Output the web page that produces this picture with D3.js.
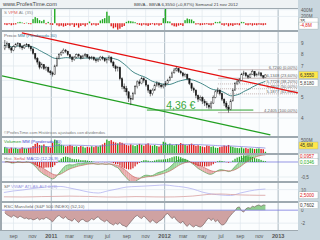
<!DOCTYPE html>
<html>
<head>
<meta charset="utf-8">
<script src="https://cdn.jsdelivr.net/npm/d3@7"></script>
<style>
  body { margin: 0; background: #c9d7df; }
  svg { display: block; font-family: "Liberation Sans", Arial, sans-serif; }
</style>
</head>
<body>
<div id="chart"></div>
<script>
const W = 320, H = 240;

// semanal, primera semana 2 ago 2010
const firstWeek = new Date(2010, 7, 2);
const firstOpen = 8.45;
const closes = [8.7,8.9,8.5,8.3,8.6,8.8,8.9,8.6,8.5,8.7,8.8,8.6,8.4,8.0,7.6,7.3,6.9,7.1,6.8,6.9,
  6.6,6.5,6.4,7.0,7.6,7.9,8.1,8.3,8.2,7.9,7.7,7.5,7.7,7.9,7.8,7.6,7.8,7.9,7.7,7.6,
  7.7,7.5,7.4,7.5,7.7,7.6,7.4,7.5,7.7,7.3,7.0,6.8,6.9,6.1,5.6,5.5,5.3,4.95,4.9,5.2,
  5.6,5.9,5.8,6.1,6.0,5.7,5.4,5.2,5.4,5.7,5.8,5.7,5.6,5.7,5.8,6.0,6.2,6.5,6.7,6.8,
  6.6,6.5,6.3,6.4,6.1,5.8,5.5,5.4,5.1,4.9,5.0,4.8,4.7,4.6,4.5,4.7,5.0,5.3,5.4,5.2,
  4.9,4.7,4.5,4.4,4.8,5.4,5.8,5.9,6.0,6.4,6.5,6.3,6.2,6.4,6.6,6.3,6.4,6.5,6.3,6.2,6.355];
const highs = [9.25,9.1,8.95,8.6,8.75,8.95,9.05,8.95,8.75,8.85,8.95,8.85,8.7,8.5,8.05,7.7,7.4,7.25,7.15,7.0,
  6.95,6.7,6.6,7.1,7.75,8.05,8.25,8.45,8.4,8.25,7.95,7.8,7.8,8.0,8.0,7.85,7.9,8.05,7.95,7.8,
  7.8,7.75,7.6,7.6,7.8,7.8,7.65,7.6,7.85,7.75,7.4,7.1,7.0,6.95,6.2,5.8,5.65,5.35,5.1,5.3,
  5.7,6.0,6.05,6.25,6.2,6.05,5.75,5.45,5.5,5.8,5.95,5.9,5.8,5.8,5.95,6.1,6.3,6.6,6.85,6.95,
  6.85,6.7,6.55,6.5,6.45,6.15,5.85,5.6,5.45,5.15,5.1,5.05,4.9,4.8,4.7,4.8,5.1,5.4,5.55,5.45,
  5.25,4.95,4.8,4.6,4.9,5.5,5.9,6.05,6.15,6.5,6.65,6.55,6.4,6.5,6.72,6.6,6.5,6.6,6.55,6.35,6.4];
const lows = [8.3,8.5,8.35,8.05,8.2,8.5,8.65,8.45,8.3,8.4,8.6,8.45,8.2,7.9,7.45,7.1,6.75,6.8,6.7,6.65,
  6.5,6.35,6.25,6.35,6.95,7.5,7.8,8.0,8.05,7.8,7.55,7.3,7.4,7.6,7.65,7.5,7.55,7.7,7.6,7.45,
  7.5,7.4,7.25,7.3,7.4,7.45,7.3,7.2,7.4,7.2,6.85,6.6,6.6,6.0,5.45,5.3,5.1,4.75,4.6,4.85,
  5.15,5.5,5.65,5.75,5.85,5.6,5.25,5.05,5.1,5.35,5.6,5.55,5.5,5.5,5.6,5.75,5.95,6.15,6.45,6.6,
  6.5,6.4,6.2,6.2,6.0,5.7,5.35,5.25,4.95,4.75,4.8,4.65,4.55,4.45,4.4,4.4,4.65,4.95,5.2,5.1,
  4.8,4.55,4.4,4.2405,4.35,4.8,5.35,5.7,5.8,5.95,6.3,6.2,6.1,6.15,6.35,6.2,6.25,6.3,6.2,6.1,6.2];
// VPM AL (35), millones
const vpm = [-40,-55,-30,-60,-45,-35,25,40,20,-20,15,-25,-30,120,180,150,90,60,100,-30,
  40,-40,-50,420,-60,-90,-70,-100,-80,-50,-70,-40,-110,-60,-130,-80,-50,-90,-40,50,
  -60,-40,-70,-50,80,120,150,340,220,-90,-150,-120,-190,-160,-110,-80,40,70,60,50,
  30,-30,-50,-70,-40,-60,-80,-50,-30,-60,-40,-70,-50,150,430,60,50,-60,-90,-100,
  -70,-50,-80,90,140,120,110,60,-40,-30,-60,-50,-40,-30,-50,-60,-40,40,30,50,
  -50,-70,-40,-90,-60,-80,-50,-40,-60,40,30,-50,-60,-40,-70,-50,-60,-40,-50,-60,-45];
// volumen semanal, millones
const volume = [220,180,160,200,170,190,150,160,210,180,170,190,200,260,340,380,300,280,320,260,
  230,200,380,500,470,350,310,280,240,260,300,270,230,250,220,260,240,200,230,210,
  250,220,260,240,280,320,380,500,450,480,420,390,360,400,380,340,300,280,320,290,
  260,300,340,310,270,330,360,290,270,300,260,240,290,420,390,320,350,300,280,330,
  310,370,340,300,280,320,350,300,270,290,260,240,220,280,260,230,250,200,190,220,
  240,280,260,300,250,230,200,190,180,210,170,190,160,180,170,150,160,170,150,140,45.6];
// RSC Mansfield (S&P 500 INDEX)
const rsc = [-0.4,-0.7,-0.9,-1.1,-0.8,-1.0,-1.2,-0.9,-1.1,-1.3,-1.2,-1.4,-1.3,-1.5,-1.4,-1.2,-1.5,-1.3,-1.4,-1.1,
  -1.3,-1.5,-1.8,-1.4,-1.0,-0.8,-1.1,-1.3,-1.0,-1.4,-1.5,-1.7,-1.3,-1.6,-1.9,-1.5,-1.4,-1.7,-1.8,-1.6,
  -1.3,-1.5,-1.2,-1.0,-1.4,-1.6,-1.8,-1.5,-1.9,-2.1,-2.3,-2.0,-2.2,-1.9,-2.3,-2.4,-2.6,-2.2,-1.8,-1.4,
  -1.0,-0.8,-1.1,-1.3,-0.9,-1.2,-1.6,-1.9,-1.5,-1.8,-2.0,-1.7,-1.5,-1.2,-0.7,-0.5,-0.9,-1.3,-1.0,-1.5,
  -1.8,-2.0,-1.7,-2.2,-2.5,-2.1,-2.4,-2.6,-2.3,-2.5,-2.6,-2.4,-2.0,-1.5,-1.2,-1.6,-1.3,-1.8,-1.5,-2.0,
  -2.3,-2.2,-1.8,-1.2,-0.8,-0.4,-0.1,0.4,0.5,-0.1,-0.3,0.2,0.4,0.3,0.6,0.5,0.7,0.8,0.6,0.8,0.76];

// panel SP, lecturas mensuales
const spDates = d3.timeMonth.range(new Date(2010, 7, 1), new Date(2012, 11, 1)).concat([new Date(2012, 10, 21)]);
const spVwap = [6.2,8.2,9.5,11.4,12.8,14.1,14.1,12.1,9.5,6.8,5.5,8.2,10.8,13.4,14.1,14.7,15.4,16.1,14.7,13.4,
  10.8,6.8,4.2,2.9,2.2,5.5,8.2,10.1,10.8];
const spAlt = [0.5,0.4,0.3,0.5,0.8,1.0,1.2,1.4,1.2,1.0,0.6,0.3,0.2,0.5,0.8,0.6,0.4,0.3,0.4,0.8,
  1.5,2.8,4.0,4.2,3.6,3.0,2.7,2.5,2.5];

// lineas dibujadas
const redLine = [[new Date(2010, 8, 28), 9.98], [new Date(2013, 2, 6), 5.24]];
const greenLine = [[new Date(2010, 6, 26), 6.29], [new Date(2012, 11, 7), 3.34]];
const support = {price: 4.36, from: new Date(2011, 10, 5), to: new Date(2012, 9, 13), label: "4,36 €", at: new Date(2012, 0, 6)};
const fibHigh = 6.72, fibLow = 4.2405;
const fibLevels = [0, 23.6, 38.2, 50, 61.8, 100];
const fibRange = [new Date(2012, 5, 21), new Date(2013, 2, 4)];

const monthNames = ["ene","feb","mar","abr","may","jun","jul","ago","sep","oct","nov","dic"];
const priceTicks = [4, 5, 6, 7, 8, 9];
const priceLabels = [4, 5, 7, 8, 9];

const fmt = (v, d) => v.toFixed(d).replace(".", ",");

function wma(arr, n) {
  return arr.map((_, i) => {
    let s = 0, w = 0;
    for (let k = 0; k < n && i - k >= 0; k++) { s += arr[i - k] * (n - k); w += n - k; }
    return s / w;
  });
}
function ema(arr, n) {
  const a = 2 / (n + 1);
  let prev = arr[0];
  return arr.map((v, i) => prev = i === 0 ? v : a * v + (1 - a) * prev);
}

const weeks = closes.map((c, i) => ({
  date: d3.timeDay.offset(firstWeek, 7 * i + 2),
  open: i === 0 ? firstOpen : closes[i - 1],
  close: c, high: highs[i], low: lows[i],
  vpm: vpm[i], vol: volume[i], rsc: rsc[i]
}));
const ma = wma(closes, 30);
const volMa = wma(volume, 30);
const e12 = ema(closes, 12), e26 = ema(closes, 26);
const macd = e12.map((v, i) => v - e26[i]);
const signal = ema(macd, 9);
weeks.forEach((d, i) => { d.ma = ma[i]; d.volMa = volMa[i]; d.macd = macd[i]; d.signal = signal[i]; d.hist = macd[i] - signal[i]; });

const svg = d3.select("#chart").append("svg").attr("width", W).attr("height", H);
svg.append("rect").attr("width", W).attr("height", H).attr("fill", "#c9d7df");
svg.append("rect").attr("x", 0).attr("y", 0).attr("width", 298).attr("height", 8).attr("fill", "#eef2f4");

const left = 2, right = 298;
const x = d3.scaleTime().domain([new Date(2010, 6, 26), new Date(2013, 2, 6)]).range([left, right]);

const panels = {vpm: [9, 30], price: [32, 136], vol: [138, 153], macd: [155, 181], sp: [183, 201], rsc: [203, 230]};

// fondos de paneles
Object.entries(panels).forEach(([k, [y0, y1]]) => {
  svg.append("rect").attr("x", left).attr("y", y0).attr("width", right - left).attr("height", y1 - y0)
    .attr("fill", "#fbfdfe");
  svg.append("clipPath").attr("id", "clip-" + k).append("rect")
    .attr("x", left).attr("y", y0).attr("width", right - left).attr("height", y1 - y0);
});

const monthTicks = d3.timeMonth.every(2).range(new Date(2010, 7, 1), new Date(2013, 0, 2));

// rejilla vertical
Object.values(panels).forEach(([y0, y1]) => {
  svg.append("g").selectAll("line").data(monthTicks).join("line")
    .attr("x1", d => x(d)).attr("x2", d => x(d)).attr("y1", y0).attr("y2", y1)
    .attr("stroke", d => d.getMonth() === 0 ? "#b7c3cb" : "#dfe7ed")
    .attr("stroke-width", d => d.getMonth() === 0 ? 1.2 : 0.7);
});

// escalas
const yPrice = d3.scaleLog().domain([3.3, 10.08]).range([136, 32]);
const yVpm = d3.scaleLinear().domain([-200, 420]).range([30, 9]);
const yVol = d3.scaleLinear().domain([0, 560]).range([153, 138]);
const yMacd = d3.scaleLinear().domain([-0.633, 0.233]).range([181, 155]);
const ySp = d3.scaleLinear().domain([-5, 20]).range([201, 182]);
const yRsc = d3.scaleLinear().domain([-3.05, 1.1]).range([230, 203]);

function hGrid(scale, ticks, color) {
  svg.append("g").selectAll("line").data(ticks).join("line")
    .attr("x1", left).attr("x2", right).attr("y1", d => scale(d)).attr("y2", d => scale(d))
    .attr("stroke", color || "#e0e8ee").attr("stroke-width", 0.7);
}
hGrid(yPrice, priceTicks);
hGrid(yVpm, [200, 400]);
hGrid(yMacd, [-0.5]);
hGrid(ySp, [10]);
hGrid(yRsc, [-2]);

// ---- VPM
svg.append("g").attr("clip-path", "url(#clip-vpm)").selectAll("rect").data(weeks).join("rect")
  .attr("x", d => x(d.date) - 0.7).attr("width", 1.4)
  .attr("y", d => yVpm(Math.max(0, d.vpm))).attr("height", d => Math.abs(yVpm(d.vpm) - yVpm(0)))
  .attr("fill", d => d.vpm >= 0 ? "#22aa22" : "#e02020");

// ---- precio
const gp = svg.append("g").attr("clip-path", "url(#clip-price)");
const fibY = p => yPrice(fibHigh - (fibHigh - fibLow) * p / 100);
gp.selectAll(".fib").data(fibLevels).join("line")
  .attr("x1", x(fibRange[0])).attr("x2", x(fibRange[1]))
  .attr("y1", fibY).attr("y2", fibY)
  .attr("stroke", "#b09a9a").attr("stroke-width", 0.7)
  .attr("stroke-dasharray", d => (d === 0 || d === 23.6 || d === 100) ? null : "1,1");
gp.selectAll(".fibt").data(fibLevels).join("text")
  .attr("x", x(fibRange[1])).attr("y", d => fibY(d) - 0.8)
  .attr("text-anchor", "end").attr("font-size", 4.2).attr("fill", "#666")
  .text(d => fmt(fibHigh - (fibHigh - fibLow) * d / 100, 4) + " (" + fmt(d, 2) + "%)");

const trend = d3.line().x(d => x(d[0])).y(d => yPrice(d[1]));
gp.append("path").attr("d", trend(redLine)).attr("stroke", "#e51010").attr("stroke-width", 1.3).attr("fill", "none");
gp.append("path").attr("d", trend(greenLine)).attr("stroke", "#23a023").attr("stroke-width", 1.3).attr("fill", "none");
gp.append("path").attr("d", trend([[support.from, support.price], [support.to, support.price]]))
  .attr("stroke", "#2ea02e").attr("stroke-width", 1).attr("fill", "none");
gp.append("text").attr("x", x(support.at)).attr("y", yPrice(support.price) - 1.5)
  .attr("font-size", 10.5).attr("fill", "#3aa83a").text(support.label);

gp.append("path").datum(weeks)
  .attr("d", d3.line().x(d => x(d.date)).y(d => yPrice(d.ma)))
  .attr("fill", "none").attr("stroke", "#2f7a7a").attr("stroke-width", 0.9);

const candles = gp.append("g").selectAll("g").data(weeks).join("g");
candles.append("line")
  .attr("x1", d => x(d.date)).attr("x2", d => x(d.date))
  .attr("y1", d => yPrice(d.high)).attr("y2", d => yPrice(d.low))
  .attr("stroke", "#222").attr("stroke-width", 0.6);
candles.append("rect")
  .attr("x", d => x(d.date) - 0.7).attr("width", 1.4)
  .attr("y", d => yPrice(Math.max(d.open, d.close)))
  .attr("height", d => Math.max(0.6, Math.abs(yPrice(d.open) - yPrice(d.close))))
  .attr("fill", d => d.close >= d.open ? "#fff" : "#111")
  .attr("stroke", "#222").attr("stroke-width", 0.4);

svg.append("text").attr("x", 4).attr("y", 134).attr("font-size", 4.2).attr("fill", "#777")
  .text("©ProfesTime.com Históricos ajustados con dividendos");

// ---- volumen
const gv = svg.append("g").attr("clip-path", "url(#clip-vol)");
gv.selectAll("rect").data(weeks).join("rect")
  .attr("x", d => x(d.date) - 0.7).attr("width", 1.4)
  .attr("y", d => yVol(d.vol)).attr("height", d => yVol(0) - yVol(d.vol))
  .attr("fill", d => d.close >= d.open ? "#22aa22" : "#e02020");
gv.append("path").datum(weeks)
  .attr("d", d3.line().x(d => x(d.date)).y(d => yVol(d.volMa)))
  .attr("fill", "none").attr("stroke", "#7a7ad8").attr("stroke-width", 0.7);

// ---- MACD
const gm = svg.append("g").attr("clip-path", "url(#clip-macd)");
const band = d3.area().x(d => x(d.date)).y0(d => yMacd(d.signal)).y1(d => yMacd(d.macd));
d3.pairs(weeks).forEach(([a, b]) => {
  gm.append("path").attr("d", band([a, b]))
    .attr("fill", b.hist >= 0 ? "#9bd89b" : "#e8aaaa").attr("stroke", "none");
});
gm.append("line").attr("x1", left).attr("x2", right).attr("y1", yMacd(0)).attr("y2", yMacd(0))
  .attr("stroke", "#7b7be0").attr("stroke-width", 0.8);
gm.selectAll(".h").data(weeks).join("rect")
  .attr("x", d => x(d.date) - 0.6).attr("width", 1.2)
  .attr("y", d => yMacd(Math.max(0, d.hist))).attr("height", d => Math.abs(yMacd(d.hist) - yMacd(0)))
  .attr("fill", d => d.hist >= 0 ? "#22aa22" : "#d82020");
gm.append("path").datum(weeks).attr("d", d3.line().x(d => x(d.date)).y(d => yMacd(d.macd)))
  .attr("fill", "none").attr("stroke", "#4a9a4a").attr("stroke-width", 0.6);
gm.append("path").datum(weeks).attr("d", d3.line().x(d => x(d.date)).y(d => yMacd(d.signal)))
  .attr("fill", "none").attr("stroke", "#c85a5a").attr("stroke-width", 0.6);

// ---- SP
const gs = svg.append("g").attr("clip-path", "url(#clip-sp)");
const spLine = vals => d3.line().curve(d3.curveMonotoneX).x((d, i) => x(spDates[i])).y(d => ySp(d))(vals);
gs.append("path").attr("d", spLine(spVwap)).attr("fill", "none").attr("stroke", "#b4b4f0").attr("stroke-width", 0.8);
gs.append("path").attr("d", spLine(spAlt)).attr("fill", "none").attr("stroke", "#d8a0a0").attr("stroke-width", 0.8);

// ---- RSC
const gr = svg.append("g").attr("clip-path", "url(#clip-rsc)");
const [r0, r1] = panels.rsc;
svg.append("clipPath").attr("id", "rsc-pos").append("rect").attr("x", left).attr("y", r0).attr("width", right - left).attr("height", yRsc(0) - r0);
svg.append("clipPath").attr("id", "rsc-neg").append("rect").attr("x", left).attr("y", yRsc(0)).attr("width", right - left).attr("height", r1 - yRsc(0));
const rArea = d3.area().x(d => x(d.date)).y0(yRsc(0)).y1(d => yRsc(d.rsc));
gr.append("path").datum(weeks).attr("d", rArea).attr("fill", "#cfa2a2").attr("clip-path", "url(#rsc-neg)");
gr.append("path").datum(weeks).attr("d", rArea).attr("fill", "#8fcf8f").attr("clip-path", "url(#rsc-pos)");
gr.append("path").datum(weeks).attr("d", d3.line().x(d => x(d.date)).y(d => yRsc(d.rsc)))
  .attr("fill", "none").attr("stroke", "#6a5555").attr("stroke-width", 0.6);
gr.append("line").attr("x1", left).attr("x2", right).attr("y1", yRsc(0)).attr("y2", yRsc(0))
  .attr("stroke", "#7b7be0").attr("stroke-width", 0.8);

// separadores
[[8, 9], [30, 32], [136, 138], [153, 155], [181, 183], [201, 203], [230, 231]].forEach(([a, b]) => {
  svg.append("rect").attr("x", 0).attr("y", a).attr("width", right).attr("height", b - a).attr("fill", "#9ea9b0");
});
svg.append("rect").attr("x", 0).attr("y", 8).attr("width", left).attr("height", 223).attr("fill", "#9ea9b0");

// ejes derechos
function rightAxis(scale, ticks, format) {
  svg.append("g").attr("transform", `translate(${right + 3},0)`)
    .call(d3.axisRight(scale).tickValues(ticks).tickSize(0).tickFormat(format))
    .call(g => g.select(".domain").remove())
    .call(g => g.selectAll("text").attr("x", 0).attr("font-size", 4.6).attr("fill", "#555")
      .attr("font-family", "Liberation Sans, Arial, sans-serif"));
}
rightAxis(yPrice, priceLabels, d => d);
rightAxis(yVpm, [200, 400], d => d + "M");
rightAxis(yVol, [500], d => d + "M");
rightAxis(yMacd, [-0.5], d => fmt(d, 1));
rightAxis(ySp, [10], d => d);
rightAxis(yRsc, [0, -2], d => d);

function valueBox(y, text, fill, color) {
  svg.append("rect").attr("x", right + 1).attr("y", y - 3.5).attr("width", 19).attr("height", 7)
    .attr("fill", fill).attr("stroke", "#9aa").attr("stroke-width", 0.4);
  svg.append("text").attr("x", right + 2).attr("y", y + 1.6).attr("font-size", 4.6).attr("fill", color).text(text);
}
valueBox(yVpm(10) - 1.5, "35", "#fff", "#444");
valueBox(yVpm(-70), "-4,8M", "#fff", "#e02020");
valueBox(yPrice(6.355), "6,3550", "#ffe84a", "#333");
valueBox(yPrice(5.818), "5,8180", "#fff", "#444");
valueBox(yVol(280), "45,6M", "#ffe84a", "#333");
valueBox(yMacd(0.18), "0,0957", "#fff", "#d82020");
valueBox(yMacd(0.0), "0,0346", "#fff", "#22aa22");
valueBox(ySp(2.5), "2,5000", "#fff", "#d82020");
valueBox(yRsc(0.76), "0,7602", "#fff", "#333");

// eje inferior
svg.append("g").selectAll("text").data(monthTicks).join("text")
  .attr("x", d => x(d)).attr("y", 238).attr("text-anchor", "middle")
  .attr("font-size", d => d.getMonth() === 0 ? 5.6 : 5)
  .attr("font-weight", d => d.getMonth() === 0 ? "bold" : "normal")
  .attr("fill", "#555")
  .text(d => d.getMonth() === 0 ? d.getFullYear() : monthNames[d.getMonth()]);

// titulos
svg.append("text").attr("x", 3).attr("y", 6).attr("font-size", 5.6).attr("fill", "#444").text("www.ProfesTime.com");
svg.append("text").attr("x", 134).attr("y", 6).attr("font-size", 4.4).attr("fill", "#444")
  .text("BBVA - BBVA   6,3550 (+0,87%)    Semanal   21 nov 2012");

function panelLabel(y, parts) {
  const t = svg.append("text").attr("x", 4).attr("y", y).attr("font-size", 4.4);
  parts.forEach(([s, c]) => t.append("tspan").attr("fill", c).text(s));
}
panelLabel(13.5, [["S ", "#888"], ["VPM", "#e05a5a"], [" AL (35)", "#888"]]);
panelLabel(36.5, [["Precio ", "#666"], ["MM (Ponderada 30)", "#3a7a9a"]]);
panelLabel(142.5, [["Volumen ", "#2a9a2a"], ["MM (Ponderada 30)", "#4a4ad0"]]);
panelLabel(159.5, [["Hist. ", "#888"], ["Señal ", "#d05050"], ["MACD (12,26,9)", "#5a5ad0"]]);
panelLabel(187.5, [["SP ", "#666"], ["VWAP ATLAS ALT 0 (3)", "#9a9ae0"]]);
panelLabel(207.5, [["RSC Mansfield (S&P 500 INDEX) (52,10)", "#666"]]);
</script>
</body>
</html>
